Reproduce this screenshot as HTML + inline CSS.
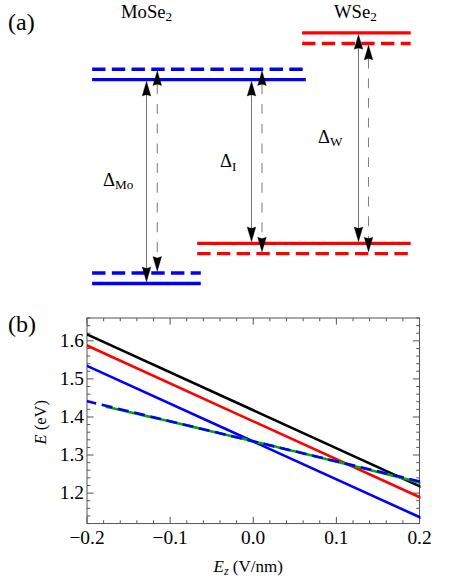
<!DOCTYPE html>
<html><head><meta charset="utf-8"><title>Band alignment figure</title>
<style>
html,body{margin:0;padding:0;background:#fff}
body{width:463px;height:580px;overflow:hidden;font-family:"Liberation Serif",serif}
svg{display:block}
</style></head><body>
<svg width="463" height="580" viewBox="0 0 463 580">
<rect width="463" height="580" fill="#fff"/>
<g id="levels">
<path d="M92.1 69.2H305.8" stroke="#0000ff" stroke-width="3.35" stroke-dasharray="13.4 6.32" fill="none"/>
<path d="M92.1 79.6H305.8" stroke="#0000ff" stroke-width="3.35" fill="none"/>
<path d="M302.1 32.9H410.7" stroke="#ff0000" stroke-width="3.35" fill="none"/>
<path d="M302.1 43.5H410.7" stroke="#ff0000" stroke-width="3.35" stroke-dasharray="13.4 6.32" fill="none"/>
<path d="M92.1 273.0H200.8" stroke="#0000ff" stroke-width="3.35" stroke-dasharray="13.4 6.32" fill="none"/>
<path d="M92.1 283.5H200.8" stroke="#0000ff" stroke-width="3.35" fill="none"/>
<path d="M197.2 243.4H410.7" stroke="#ff0000" stroke-width="3.35" fill="none"/>
<path d="M197.2 253.6H410.7" stroke="#ff0000" stroke-width="3.35" stroke-dasharray="13.4 6.32" fill="none"/>
</g>
<g id="arrows">
<path d="M146.5 93.60V269.50" stroke="#000" stroke-width="0.55" fill="none"/><path d="M146.5 81.19999999999999L150.85 96.00Q148.46 95.05 146.5 94.70Q144.54 95.05 142.15 96.00ZM146.5 281.9L150.85 267.10Q148.46 268.05 146.5 268.40Q144.54 268.05 142.15 267.10Z" fill="#000" stroke="#000" stroke-width="0.3"/>
<path d="M157.27 84.20V259.00" stroke="#808080" stroke-width="1.05" stroke-dasharray="9.9 9.83" fill="none"/><path d="M157.27 70.8L161.62 85.60Q159.23 84.65 157.27 84.30Q155.31 84.65 152.92 85.60ZM157.27 271.4L161.62 256.60Q159.23 257.55 157.27 257.90Q155.31 257.55 152.92 256.60Z" fill="#000" stroke="#000" stroke-width="0.3"/>
<path d="M251.5 93.60V229.40" stroke="#000" stroke-width="0.55" fill="none"/><path d="M251.5 81.19999999999999L255.85 96.00Q253.46 95.05 251.5 94.70Q249.54 95.05 247.15 96.00ZM251.5 241.8L255.85 227.00Q253.46 227.95 251.5 228.30Q249.54 227.95 247.15 227.00Z" fill="#000" stroke="#000" stroke-width="0.3"/>
<path d="M262.0 84.20V239.60" stroke="#808080" stroke-width="1.05" stroke-dasharray="9.9 9.83" fill="none"/><path d="M262.0 70.8L266.35 85.60Q263.96 84.65 262.0 84.30Q260.04 84.65 257.65 85.60ZM262.0 252.0L266.35 237.20Q263.96 238.15 262.0 238.50Q260.04 238.15 257.65 237.20Z" fill="#000" stroke="#000" stroke-width="0.3"/>
<path d="M358.5 46.90V229.40" stroke="#000" stroke-width="0.55" fill="none"/><path d="M358.5 34.5L362.85 49.30Q360.46 48.35 358.5 48.00Q356.54 48.35 354.15 49.30ZM358.5 241.8L362.85 227.00Q360.46 227.95 358.5 228.30Q356.54 227.95 354.15 227.00Z" fill="#000" stroke="#000" stroke-width="0.3"/>
<path d="M368.5 58.50V239.60" stroke="#808080" stroke-width="1.05" stroke-dasharray="9.9 9.83" fill="none"/><path d="M368.5 45.1L372.85 59.90Q370.46 58.95 368.5 58.60Q366.54 58.95 364.15 59.90ZM368.5 252.0L372.85 237.20Q370.46 238.15 368.5 238.50Q366.54 238.15 364.15 237.20Z" fill="#000" stroke="#000" stroke-width="0.3"/>
</g>
<g id="plot">
<clipPath id="cp"><rect x="87.0" y="318.0" width="333.50" height="205.55"/></clipPath>
<path d="M87.00 523.55v-6.6M87.00 318.0v6.6M103.63 523.55v-3.3M103.63 318.0v3.3M120.25 523.55v-3.3M120.25 318.0v3.3M136.88 523.55v-3.3M136.88 318.0v3.3M153.50 523.55v-3.3M153.50 318.0v3.3M170.12 523.55v-6.6M170.12 318.0v6.6M186.75 523.55v-3.3M186.75 318.0v3.3M203.38 523.55v-3.3M203.38 318.0v3.3M220.00 523.55v-3.3M220.00 318.0v3.3M236.62 523.55v-3.3M236.62 318.0v3.3M253.25 523.55v-6.6M253.25 318.0v6.6M269.88 523.55v-3.3M269.88 318.0v3.3M286.50 523.55v-3.3M286.50 318.0v3.3M303.12 523.55v-3.3M303.12 318.0v3.3M319.75 523.55v-3.3M319.75 318.0v3.3M336.38 523.55v-6.6M336.38 318.0v6.6M353.00 523.55v-3.3M353.00 318.0v3.3M369.62 523.55v-3.3M369.62 318.0v3.3M386.25 523.55v-3.3M386.25 318.0v3.3M402.88 523.55v-3.3M402.88 318.0v3.3M419.50 523.55v-6.6M419.50 318.0v6.6M87.0 523.55h3.3M419.5 523.55h-3.3M87.0 515.94h3.3M419.5 515.94h-3.3M87.0 508.32h3.3M419.5 508.32h-3.3M87.0 500.71h3.3M419.5 500.71h-3.3M87.0 493.10h6.6M419.5 493.10h-6.6M87.0 485.49h3.3M419.5 485.49h-3.3M87.0 477.87h3.3M419.5 477.87h-3.3M87.0 470.26h3.3M419.5 470.26h-3.3M87.0 462.65h3.3M419.5 462.65h-3.3M87.0 455.03h6.6M419.5 455.03h-6.6M87.0 447.42h3.3M419.5 447.42h-3.3M87.0 439.81h3.3M419.5 439.81h-3.3M87.0 432.19h3.3M419.5 432.19h-3.3M87.0 424.58h3.3M419.5 424.58h-3.3M87.0 416.97h6.6M419.5 416.97h-6.6M87.0 409.36h3.3M419.5 409.36h-3.3M87.0 401.74h3.3M419.5 401.74h-3.3M87.0 394.13h3.3M419.5 394.13h-3.3M87.0 386.52h3.3M419.5 386.52h-3.3M87.0 378.90h6.6M419.5 378.90h-6.6M87.0 371.29h3.3M419.5 371.29h-3.3M87.0 363.68h3.3M419.5 363.68h-3.3M87.0 356.06h3.3M419.5 356.06h-3.3M87.0 348.45h3.3M419.5 348.45h-3.3M87.0 340.84h6.6M419.5 340.84h-6.6M87.0 333.23h3.3M419.5 333.23h-3.3M87.0 325.61h3.3M419.5 325.61h-3.3M87.0 318.00h3.3M419.5 318.00h-3.3" stroke="#555" stroke-width="1" fill="none"/>
<rect x="87.0" y="318.0" width="332.50" height="205.55" fill="none" stroke="#555" stroke-width="1"/>
<g clip-path="url(#cp)">
<path d="M85.00 333.44L421.50 487.11" stroke="#000" stroke-width="2.6" fill="none"/>
<path d="M85.00 344.64L421.50 498.01" stroke="#ff0000" stroke-width="2.6" fill="none"/>
<path d="M85.00 364.94L421.50 518.01" stroke="#0000ff" stroke-width="2.6" fill="none"/>
<path d="M105.80 406.64L113.80 408.47L121.80 410.31L129.80 412.16L137.80 414.01L145.80 415.86L153.80 417.72L161.80 419.59L169.80 421.46L177.80 423.34L185.80 425.22L193.80 427.11L201.80 429.00L209.80 430.90L217.80 432.80L225.80 434.71L233.80 436.62L241.80 438.54L249.80 440.47L257.80 442.40L265.80 444.33L273.80 446.26L281.80 448.20L289.80 450.14L297.80 452.09L305.80 454.04L313.80 456.00L321.80 457.97L329.80 459.94L337.80 461.92L345.80 463.90L353.80 465.90L361.80 467.90L369.80 469.91L377.80 471.93L385.80 473.95L393.80 475.99L401.80 478.04L409.80 480.09L417.80 482.16L421.50 483.12" stroke="#00aa00" stroke-width="2.6" fill="none"/>
<path d="M85.50 400.84L421.50 481.88" stroke="#0000ff" stroke-width="2.6" fill="none" stroke-dasharray="11.0 5.65"/>
</g>
</g>
<g id="labels" font-family="'Liberation Serif', serif" fill="#000" stroke="none"><text x="8" y="30" font-size="24">(a)</text><text x="8" y="331.5" font-size="24">(b)</text><text x="121" y="17.5" font-size="18.67">MoSe<tspan font-size="13.2" dy="3">2</tspan></text><text x="334" y="17.5" font-size="18.67">WSe<tspan font-size="13.2" dy="3">2</tspan></text><text x="103" y="185.7" font-size="18.67">&#916;<tspan font-size="13.2" dy="3.5">Mo</tspan></text><text x="220" y="167.3" font-size="18.67">&#916;<tspan font-size="13.2" dy="3.3">I</tspan></text><text x="318" y="142.7" font-size="18.67">&#916;<tspan font-size="13.2" dy="3.3">W</tspan></text><text x="84" y="346.5" font-size="19.4" text-anchor="end">1.6</text><text x="84" y="384.6" font-size="19.4" text-anchor="end">1.5</text><text x="84" y="422.6" font-size="19.4" text-anchor="end">1.4</text><text x="84" y="460.7" font-size="19.4" text-anchor="end">1.3</text><text x="84" y="498.7" font-size="19.4" text-anchor="end">1.2</text><text x="87.0" y="544.1" font-size="19.4" text-anchor="middle">&#8722;0.2</text><text x="170.1" y="544.1" font-size="19.4" text-anchor="middle">&#8722;0.1</text><text x="253.2" y="544.1" font-size="19.4" text-anchor="middle">0.0</text><text x="336.4" y="544.1" font-size="19.4" text-anchor="middle">0.1</text><text x="419.5" y="544.1" font-size="19.4" text-anchor="middle">0.2</text><text x="213.5" y="572" font-size="17"><tspan font-style="italic">E</tspan><tspan font-style="italic" font-size="12" dy="2.6">z</tspan><tspan dy="-2.6"> (V/nm)</tspan></text><text transform="translate(46.3 444.4) rotate(-90)" font-size="16.45"><tspan font-style="italic">E</tspan> (eV)</text></g>
</svg>
</body></html>
